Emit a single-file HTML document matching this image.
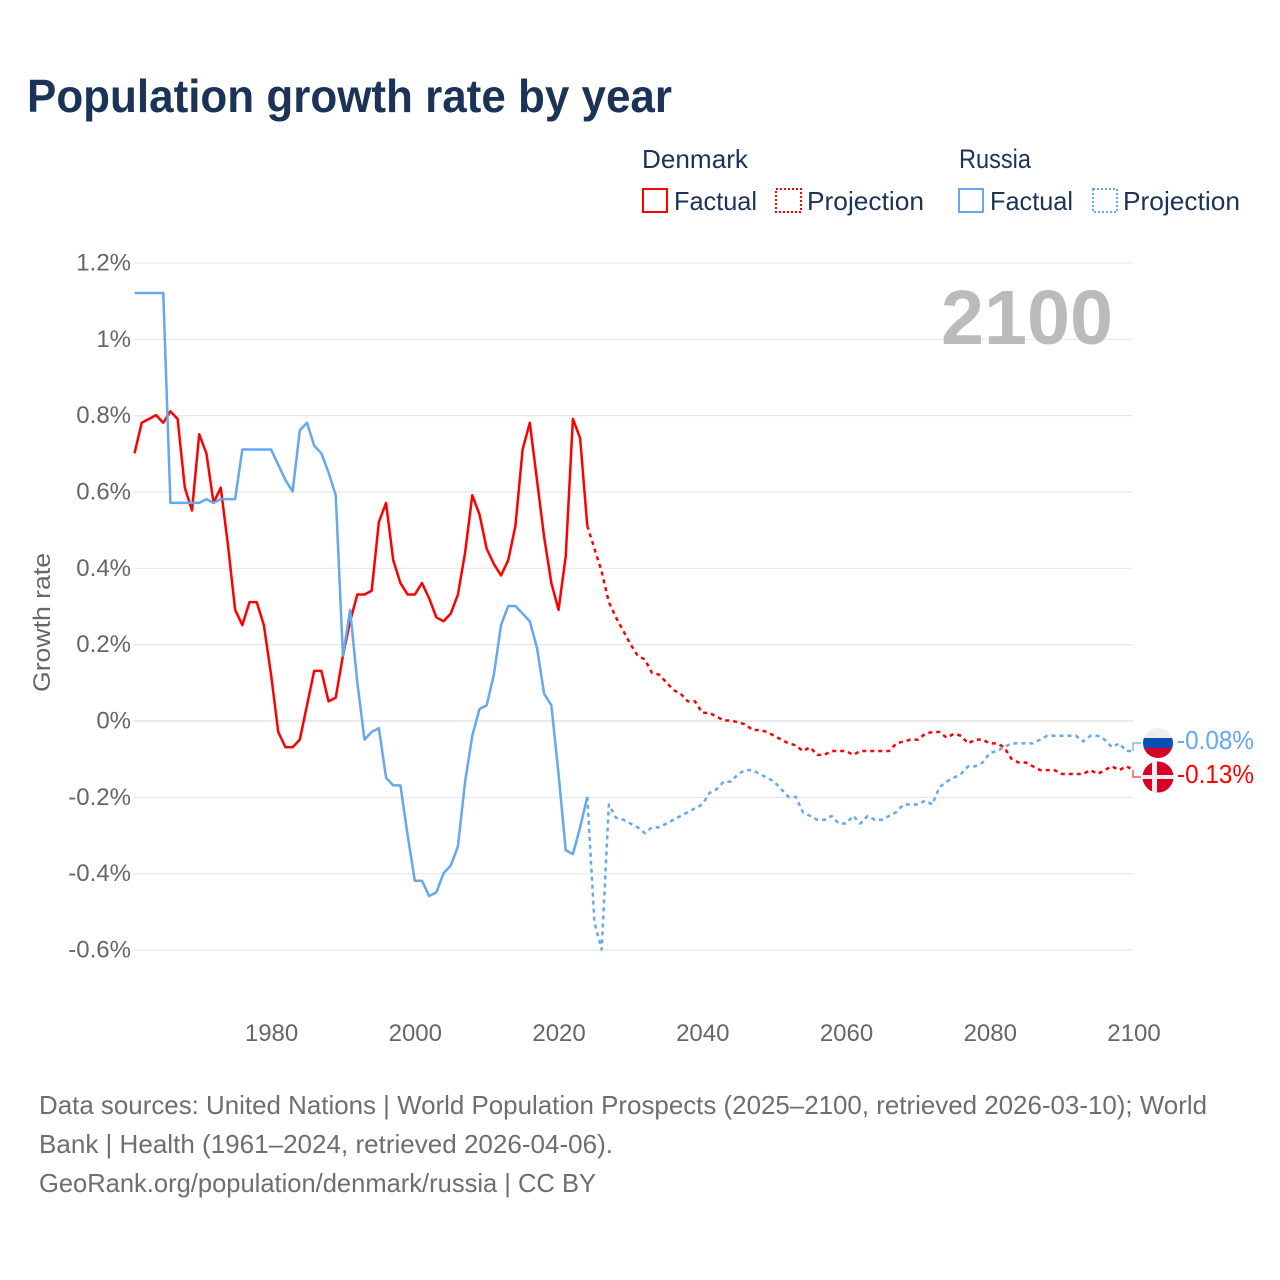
<!DOCTYPE html>
<html lang="en">
<head>
<meta charset="utf-8">
<title>Population growth rate by year</title>
<style>
html,body{margin:0;padding:0;background:#fff;width:1280px;height:1280px;overflow:hidden}
svg{display:block;font-family:"Liberation Sans",sans-serif}
</style>
</head>
<body>
<svg id="chart" xmlns="http://www.w3.org/2000/svg" width="1280" height="1280" viewBox="0 0 1280 1280">
  <rect x="0" y="0" width="1280" height="1280" fill="#fff"/>
  <text x="27" y="112" font-size="46" font-weight="700" fill="#1a3356" textLength="645" lengthAdjust="spacingAndGlyphs">Population growth rate by year</text>

  <g font-size="26" fill="#1a3356">
    <text x="642" y="168" textLength="106" lengthAdjust="spacingAndGlyphs">Denmark</text>
    <text x="959" y="168" font-size="27" textLength="72" lengthAdjust="spacingAndGlyphs">Russia</text>
    <g>
      <rect x="643" y="189" width="24" height="23" fill="none" stroke="#ff0000" stroke-width="2"/>
      <text x="674" y="210" textLength="83" lengthAdjust="spacingAndGlyphs">Factual</text>
    </g>
    <g>
      <rect x="776" y="189" width="25" height="23" fill="none" stroke="#ff0000" stroke-width="2" stroke-dasharray="2 2"/>
      <text x="807" y="210" textLength="117" lengthAdjust="spacingAndGlyphs">Projection</text>
    </g>
    <g>
      <rect x="959" y="189" width="24" height="23" fill="none" stroke="#64a8ef" stroke-width="2"/>
      <text x="990" y="210" textLength="83" lengthAdjust="spacingAndGlyphs">Factual</text>
    </g>
    <g>
      <rect x="1093" y="189" width="24" height="23" fill="none" stroke="#64a8ef" stroke-width="2" stroke-dasharray="2 2"/>
      <text x="1123" y="210" textLength="117" lengthAdjust="spacingAndGlyphs">Projection</text>
    </g>
  </g>

  <g id="grid"></g>
  <g id="yticks" font-size="24" fill="#666" text-anchor="end"></g>
  <g id="xticks" font-size="24" fill="#666" text-anchor="middle"></g>
  <text transform="translate(50,622.5) rotate(-90)" font-size="24" fill="#666" text-anchor="middle" textLength="139" lengthAdjust="spacingAndGlyphs">Growth rate</text>
  <text x="941" y="344" font-size="77" font-weight="700" fill="#bbbbbb" textLength="172" lengthAdjust="spacingAndGlyphs">2100</text>
  <g id="series"></g>

  <g>
    <path d="M1133 751V743H1141" fill="none" stroke="#64a8ef" stroke-width="1.2"/>
    <clipPath id="clipRu"><circle cx="1158" cy="743" r="15"/></clipPath>
    <g clip-path="url(#clipRu)">
      <rect x="1143" y="728" width="30" height="10" fill="#eeeeee"/>
      <rect x="1143" y="738" width="30" height="10" fill="#0a50b4"/>
      <rect x="1143" y="748" width="30" height="10" fill="#d80027"/>
    </g>
    <text x="1177" y="749" font-size="26" fill="#64a8ef" textLength="77" lengthAdjust="spacingAndGlyphs">-0.08%</text>
  </g>
  <g>
    <path d="M1133 770V777H1141" fill="none" stroke="#ff3030" stroke-width="1.2"/>
    <clipPath id="clipDk"><circle cx="1158" cy="777" r="15.5"/></clipPath>
    <g clip-path="url(#clipDk)">
      <rect x="1142" y="761" width="32" height="32" fill="#d80027"/>
      <rect x="1152" y="761" width="5" height="32" fill="#eeeeee"/>
      <rect x="1142" y="775" width="32" height="4" fill="#eeeeee"/>
    </g>
    <text x="1177" y="783" font-size="26" fill="#ff0000" textLength="77" lengthAdjust="spacingAndGlyphs">-0.13%</text>
  </g>

  <g font-size="26" fill="#6e6e6e">
    <text x="39" y="1114" textLength="1168" lengthAdjust="spacingAndGlyphs">Data sources: United Nations | World Population Prospects (2025–2100, retrieved 2026-03-10); World</text>
    <text x="39" y="1153" textLength="574" lengthAdjust="spacingAndGlyphs">Bank | Health (1961–2024, retrieved 2026-04-06).</text>
    <text x="39" y="1192" textLength="557" lengthAdjust="spacingAndGlyphs">GeoRank.org/population/denmark/russia | CC BY</text>
  </g>
</svg>
<script>
const yTicks = [1.2, 1, 0.8, 0.6, 0.4, 0.2, 0, -0.2, -0.4, -0.6];
const yTickLabels = ["1.2%", "1%", "0.8%", "0.6%", "0.4%", "0.2%", "0%", "-0.2%", "-0.4%", "-0.6%"];
const xTicks = [1980, 2000, 2020, 2040, 2060, 2080, 2100];
const factualStartYear = 1961;
const projectionStartYear = 2024;
const denmarkFactual = [0.70,0.78,0.79,0.80,0.78,0.81,0.79,0.61,0.55,0.75,0.70,0.57,0.61,0.46,0.29,0.25,0.31,0.31,0.25,0.12,-0.03,-0.07,-0.07,-0.05,0.04,0.13,0.13,0.05,0.06,0.17,0.26,0.33,0.33,0.34,0.52,0.57,0.42,0.36,0.33,0.33,0.36,0.32,0.27,0.26,0.28,0.33,0.44,0.59,0.54,0.45,0.41,0.38,0.42,0.51,0.71,0.78,0.63,0.48,0.36,0.29,0.43,0.79,0.74,0.51];
const russiaFactual = [1.12,1.12,1.12,1.12,1.12,0.57,0.57,0.57,0.57,0.57,0.58,0.57,0.58,0.58,0.58,0.71,0.71,0.71,0.71,0.71,0.67,0.63,0.60,0.76,0.78,0.72,0.70,0.65,0.59,0.17,0.29,0.10,-0.05,-0.03,-0.02,-0.15,-0.17,-0.17,-0.30,-0.42,-0.42,-0.46,-0.45,-0.40,-0.38,-0.33,-0.16,-0.04,0.03,0.04,0.12,0.25,0.30,0.30,0.28,0.26,0.19,0.07,0.04,-0.14,-0.34,-0.35,-0.28,-0.20];
const denmarkProjection = [0.51,0.45,0.39,0.31,0.27,0.235,0.20,0.17,0.16,0.125,0.12,0.10,0.08,0.07,0.05,0.05,0.02,0.02,0.01,0.00,0.00,-0.005,-0.01,-0.025,-0.025,-0.03,-0.04,-0.05,-0.06,-0.065,-0.08,-0.07,-0.09,-0.09,-0.08,-0.08,-0.08,-0.09,-0.08,-0.08,-0.08,-0.08,-0.08,-0.06,-0.055,-0.05,-0.05,-0.035,-0.03,-0.03,-0.045,-0.035,-0.04,-0.06,-0.05,-0.05,-0.06,-0.06,-0.07,-0.10,-0.11,-0.11,-0.12,-0.13,-0.13,-0.13,-0.14,-0.14,-0.14,-0.14,-0.13,-0.14,-0.13,-0.12,-0.13,-0.12,-0.13];
const russiaProjection = [-0.20,-0.53,-0.60,-0.22,-0.255,-0.26,-0.27,-0.28,-0.295,-0.28,-0.28,-0.27,-0.26,-0.25,-0.24,-0.23,-0.22,-0.19,-0.18,-0.16,-0.16,-0.14,-0.13,-0.13,-0.14,-0.15,-0.16,-0.18,-0.20,-0.20,-0.24,-0.25,-0.26,-0.26,-0.25,-0.27,-0.27,-0.25,-0.27,-0.25,-0.26,-0.26,-0.25,-0.24,-0.22,-0.22,-0.22,-0.21,-0.22,-0.175,-0.16,-0.15,-0.14,-0.12,-0.12,-0.11,-0.085,-0.08,-0.07,-0.06,-0.06,-0.06,-0.06,-0.05,-0.04,-0.04,-0.04,-0.04,-0.04,-0.055,-0.04,-0.04,-0.05,-0.07,-0.06,-0.08,-0.08];

const NS = "http://www.w3.org/2000/svg";
const xPos = function (year) { return 1133.5 - (2100 - year) * 7.187; };
const yPos = function (value) { return 721 - value * 381.7; };

function pathFrom(values, startYear) {
  return values.map(function (v, i) {
    return (i ? "L" : "M") + xPos(startYear + i).toFixed(2) + " " + (yPos(v) - 0.5).toFixed(2);
  }).join("");
}

const gridGroup = document.getElementById("grid");
const yGroup = document.getElementById("yticks");
yTicks.forEach(function (t, i) {
  const line = document.createElementNS(NS, "line");
  
  
  line.setAttribute("x1", 134);
  line.setAttribute("x2", 1133);
  line.setAttribute("y1", yPos(t));
  line.setAttribute("y2", yPos(t));
  line.setAttribute("stroke", t === 0 ? "#e2e2e2" : "#e8e8e8");
  line.setAttribute("stroke-width", t === 0 ? 1.6 : 1.2);
  gridGroup.appendChild(line);
  const label = document.createElementNS(NS, "text");
  
  
  label.setAttribute("x", 131);
  label.setAttribute("y", yPos(t) + 7.5);
  label.textContent = yTickLabels[i];
  yGroup.appendChild(label);
});

const xGroup = document.getElementById("xticks");
xTicks.forEach(function (t) {
  const label = document.createElementNS(NS, "text");
  
  
  label.setAttribute("x", xPos(t) + 0.5);
  label.setAttribute("y", 1041);
  label.textContent = String(t);
  xGroup.appendChild(label);
});

const seriesGroup = document.getElementById("series");

const russiaProjectionLine = document.createElementNS(NS, "path");


russiaProjectionLine.setAttribute("d", pathFrom(russiaProjection, projectionStartYear));
russiaProjectionLine.setAttribute("stroke", "#64a8ef");
russiaProjectionLine.setAttribute("stroke-dasharray", "4 4");
seriesGroup.appendChild(russiaProjectionLine);

const denmarkProjectionLine = document.createElementNS(NS, "path");


denmarkProjectionLine.setAttribute("d", pathFrom(denmarkProjection, projectionStartYear));
denmarkProjectionLine.setAttribute("stroke", "#ff0000");
denmarkProjectionLine.setAttribute("stroke-dasharray", "4 4");
seriesGroup.appendChild(denmarkProjectionLine);

const denmarkFactualLine = document.createElementNS(NS, "path");


denmarkFactualLine.setAttribute("d", pathFrom(denmarkFactual, factualStartYear));
denmarkFactualLine.setAttribute("stroke", "#ff0000");
seriesGroup.appendChild(denmarkFactualLine);

const russiaFactualLine = document.createElementNS(NS, "path");


russiaFactualLine.setAttribute("d", pathFrom(russiaFactual, factualStartYear));
russiaFactualLine.setAttribute("stroke", "#64a8ef");
seriesGroup.appendChild(russiaFactualLine);

[russiaProjectionLine, denmarkProjectionLine, denmarkFactualLine, russiaFactualLine].forEach(function (p) {
  p.setAttribute("fill", "none");
  p.setAttribute("stroke-width", 2.5);
  p.setAttribute("stroke-linejoin", "round");
});
</script>
</body>
</html>
